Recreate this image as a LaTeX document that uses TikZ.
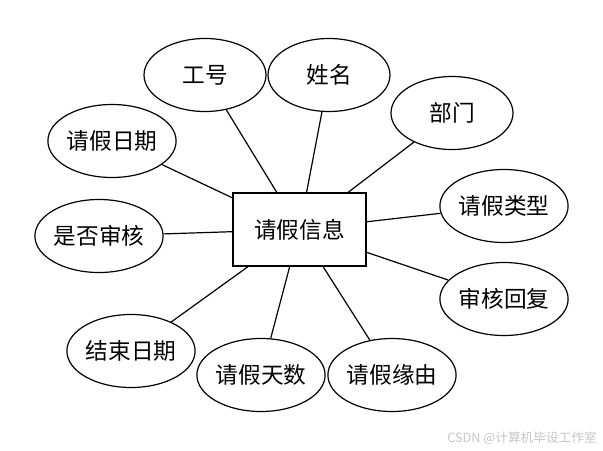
\documentclass[tikz,border=0pt]{standalone}
\usepackage{fontspec}
\newfontfamily\cjk{Noto Sans CJK SC}
\usetikzlibrary{shapes.geometric}

\begin{document}
\begin{tikzpicture}[
        x=0.75pt,y=-0.75pt,
        ent/.style={draw,line width=0.9pt,minimum width=99.75pt,minimum height=54.75pt,inner sep=0pt,font=\cjk\fontsize{17}{17}\selectfont},
        attr/.style={ellipse,draw,line width=0.9pt,minimum width=91.5pt,minimum height=54.75pt,inner sep=0pt,font=\cjk\fontsize{17}{17}\selectfont},
        link/.style={line width=0.9pt}
      ]
      \useasboundingbox (0,0) rectangle (603,450);

      \node[ent] (info) at (299.5,229.5) {请假信息};

      \node[attr] (gonghao) at (205,75) {工号};
      \node[attr] (xingming) at (329,75) {姓名};
      \node[attr] (bumen) at (452,113) {部门};
      \node[attr] (riqi) at (112,141) {请假日期};
      \node[attr] (leixing) at (504,206) {请假类型};
      \node[attr] (shenhe) at (99,236) {是否审核};
      \node[attr] (huifu) at (504,299) {审核回复};
      \node[attr] (jieshu) at (131,351) {结束日期};
      \node[attr] (tianshu) at (261,375) {请假天数};
      \node[attr] (yuanyou) at (392,375) {请假缘由};

      \draw[link] (info) -- (gonghao);
      \draw[link] (info) -- (xingming);
      \draw[link] (info) -- (bumen);
      \draw[link] (info) -- (riqi);
      \draw[link] (info) -- (leixing);
      \draw[link] (info) -- (shenhe);
      \draw[link] (info) -- (huifu);
      \draw[link] (info) -- (jieshu);
      \draw[link] (info) -- (tianshu);
      \draw[link] (info) -- (yuanyou);

      \node[anchor=east,text=gray!45,inner sep=0pt,font=\cjk\fontsize{9.5}{9.5}\selectfont] (mark) at (597,438) {CSDN @计算机毕设工作室};
    \end{tikzpicture}
\end{document}
